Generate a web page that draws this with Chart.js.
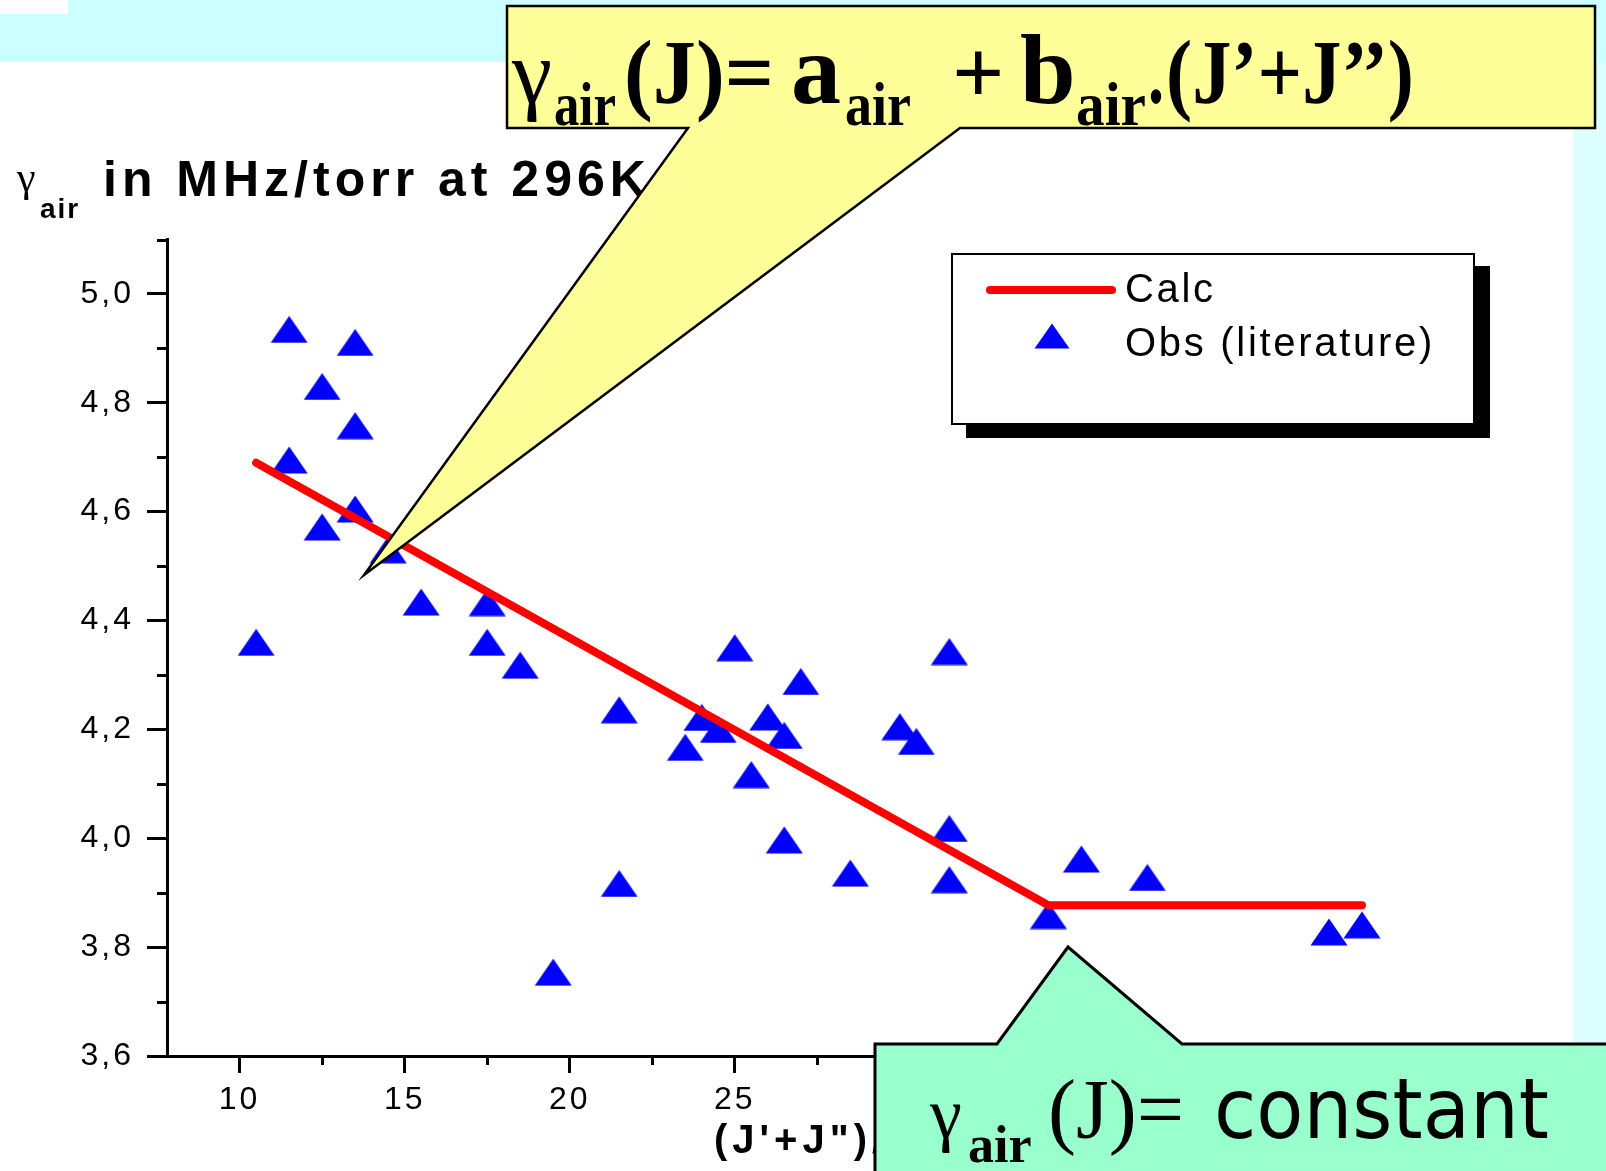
<!DOCTYPE html>
<html>
<head>
<meta charset="utf-8">
<script src="https://cdn.jsdelivr.net/npm/chart.js@4.4.1/dist/chart.umd.min.js"></script>
<style>
html, body { margin: 0; padding: 0; background: #fff; overflow: hidden; }
#wrap { position: absolute; left: 0; top: 0; width: 1606px; height: 1171px; }
</style>
</head>
<body>
<div id="wrap"><canvas id="chart" width="1606" height="1171"></canvas></div>
<script>
const obsJ = [10.5, 11.5, 11.5, 12.5, 12.5, 13.5, 13.5, 13.5, 14.5, 15.5, 17.5, 17.5, 18.5, 19.5,
              21.5, 21.5, 23.5, 24, 24.5, 25, 25.5, 26, 26.5, 26.5, 27, 28.5, 30, 30.5,
              31.5, 31.5, 31.5, 34.5, 35.5, 37.5, 43, 44];
const obsGamma = [4.36, 4.935, 4.695, 4.83, 4.572, 4.911, 4.758, 4.605, 4.53, 4.434, 4.433, 4.36, 4.318, 3.754,
                  4.236, 3.917, 4.167, 4.222, 4.2, 4.35, 4.117, 4.223, 4.189, 3.997, 4.288, 3.936, 4.205, 4.178,
                  4.343, 4.018, 3.924, 3.858, 3.962, 3.928, 3.828, 3.841];

// Calculated (linear, then constant)
const calcJ = [10.5, 34.5, 44];
const calcGamma = [4.69, 3.877, 3.877];

// Axis ticks
const yTicks = [3.6, 3.7, 3.8, 3.9, 4.0, 4.1, 4.2, 4.3, 4.4, 4.5, 4.6, 4.7, 4.8, 4.9, 5.0, 5.1];
const yLabelled = [3.6, 3.8, 4.0, 4.2, 4.4, 4.6, 4.8, 5.0];
const xTicks = [10, 12.5, 15, 17.5, 20, 22.5, 25, 27.5, 30, 32.5, 35, 37.5, 40, 42.5, 45];
const xLabelled = [10, 15, 20, 25, 30, 35, 40, 45];
const xTitle = "(J'+J\")/2";

const SANS = '"Liberation Sans", Arial, sans-serif';
const SERIF = '"Liberation Serif", "Times New Roman", serif';

function isLab(list, v) {
    return list.some(l => Math.abs(l - v) < 1e-6);
}

// blue triangle marker, a bit wider than equilateral like the original
function makeTriangle(w, h) {
    const c = document.createElement("canvas");
    c.width = w; c.height = h;
    const g = c.getContext("2d");
    g.fillStyle = "#0000ff";
    g.beginPath();
    g.moveTo(0.5, h - 0.5);
    g.lineTo(w / 2, 0.5);
    g.lineTo(w - 0.5, h - 0.5);
    g.closePath();
    g.fill();
    return c;
}
const triangle = makeTriangle(38, 28);
const legendTriangle = makeTriangle(36, 26);

// Backgrounds, minor ticks, titles, legend and callouts
const decor = {
    id: "decor",
    beforeDraw(chart) {
        const ctx = chart.ctx;
        ctx.save();
        ctx.fillStyle = "#ffffff";
        ctx.fillRect(0, 0, 1606, 1171);
        ctx.fillStyle = "#ccffff";
        ctx.fillRect(0, 0, 1606, 62);
        ctx.fillStyle = "#ddffff";
        ctx.fillRect(1573, 62, 33, 1109);
        ctx.fillStyle = "#ffffff";
        ctx.fillRect(0, 0, 68, 14);
        ctx.restore();
        ctx.letterSpacing = "3px";
    },
    afterDraw(chart) {
        const ctx = chart.ctx;
        const area = chart.chartArea;
        const xs = chart.scales.x, ys = chart.scales.y;
        ctx.save();
        ctx.letterSpacing = "0px";

        // minor ticks
        ctx.strokeStyle = "#000";
        ctx.lineWidth = 3;
        ctx.beginPath();
        ys.ticks.forEach(t => {
            if (t.major) return;
            const py = Math.round(ys.getPixelForValue(t.value)) + 0.5;
            ctx.moveTo(area.left - 10, py);
            ctx.lineTo(area.left, py);
        });
        xs.ticks.forEach(t => {
            if (t.major) return;
            const px = Math.round(xs.getPixelForValue(t.value)) + 0.5;
            ctx.moveTo(px, area.bottom);
            ctx.lineTo(px, area.bottom + 9);
        });
        ctx.stroke();

        // axis titles
        ctx.fillStyle = "#000";
        ctx.textBaseline = "alphabetic";
        ctx.textAlign = "left";
        ctx.font = "bold 40px " + SANS;
        ctx.letterSpacing = "5px";
        ctx.fillText(xTitle, 714, 1153);

        ctx.letterSpacing = "0px";
        ctx.font = "42px " + SERIF;
        ctx.fillText("γ", 17, 191);
        ctx.font = "bold 28px " + SANS;
        ctx.letterSpacing = "2px";
        ctx.fillText("air", 40, 218);
        ctx.font = "bold 50px " + SANS;
        ctx.letterSpacing = "5px";
        ctx.fillText("in MHz/torr at 296K", 103, 196);
        ctx.letterSpacing = "0px";

        // legend with drop shadow
        ctx.fillStyle = "#000";
        ctx.fillRect(966, 266, 524, 172);
        ctx.fillStyle = "#fff";
        ctx.fillRect(952, 254, 522, 170);
        ctx.lineWidth = 2;
        ctx.strokeStyle = "#000";
        ctx.strokeRect(952, 254, 522, 170);

        const dsCalc = chart.data.datasets[0], dsObs = chart.data.datasets[1];
        ctx.strokeStyle = dsCalc.borderColor;
        ctx.lineWidth = 8;
        ctx.lineCap = "round";
        ctx.beginPath();
        ctx.moveTo(990, 290);
        ctx.lineTo(1112, 290);
        ctx.stroke();
        ctx.drawImage(legendTriangle, 1052 - 18, 336 - 13);
        ctx.fillStyle = "#000";
        ctx.font = "40px " + SANS;
        ctx.letterSpacing = "2.7px";
        ctx.textBaseline = "middle";
        ctx.fillText(dsCalc.label, 1125, 291);
        ctx.fillText(dsObs.label, 1125, 345);
        ctx.letterSpacing = "0px";
        ctx.textBaseline = "alphabetic";

        // yellow callout
        ctx.lineCap = "butt";
        ctx.lineJoin = "miter";
        ctx.beginPath();
        ctx.moveTo(507, 6);
        ctx.lineTo(1595, 6);
        ctx.lineTo(1595, 128);
        ctx.lineTo(960, 128);
        ctx.lineTo(364, 575);
        ctx.lineTo(688, 128);
        ctx.lineTo(507, 128);
        ctx.closePath();
        ctx.fillStyle = "#ffff99";
        ctx.fill();
        ctx.lineWidth = 2.5;
        ctx.strokeStyle = "#000";
        ctx.stroke();

        const big = "bold 92px " + SERIF, wide = "bold 100px " + SERIF, sub = "bold 62px " + SERIF;
        const formula = [
            ["γ", "92px " + SERIF, 512, 103, 40],
            ["air", sub, 554, 125, 62],
            ["(J)=", big, 624, 103, 150],
            ["a", wide, 791, 103, 55],
            ["air", sub, 845, 125, 66],
            ["+", big, 952, 103, 56],
            ["b", wide, 1020, 103, 56],
            ["air", sub, 1076, 125, 70],
            [".", big, 1148, 103, 16],
            ["(J’+J’’)", big, 1166, 103, 248]
        ];
        ctx.fillStyle = "#000";
        formula.forEach(([t, f, x, y, w]) => {
            ctx.font = f;
            ctx.fillText(t, x, y, w);
        });

        // green callout
        ctx.beginPath();
        ctx.moveTo(875, 1180);
        ctx.lineTo(875, 1044);
        ctx.lineTo(997, 1044);
        ctx.lineTo(1068, 947);
        ctx.lineTo(1182, 1044);
        ctx.lineTo(1612, 1044);
        ctx.lineTo(1612, 1180);
        ctx.closePath();
        ctx.fillStyle = "#99ffcc";
        ctx.fill();
        ctx.lineWidth = 3;
        ctx.strokeStyle = "#000";
        ctx.stroke();

        ctx.fillStyle = "#000";
        ctx.font = "72px " + SERIF;
        ctx.fillText("γ", 930, 1138, 36);
        ctx.font = "bold 52px " + SERIF;
        ctx.fillText("air", 968, 1162, 68);
        ctx.font = "84px " + SERIF;
        ctx.fillText("(J)=", 1048, 1138, 138);
        ctx.font = '84px "Comic Sans MS", "DejaVu Sans", sans-serif';
        ctx.fillText("constant", 1214, 1138, 335);

        ctx.restore();
    }
};

new Chart(document.getElementById("chart").getContext("2d"), {
    type: "scatter",
    data: {
        datasets: [
            {
                label: "Calc",
                type: "line",
                data: calcJ.map((x, i) => ({ x: x, y: calcGamma[i] })),
                borderColor: "#ff0000",
                borderWidth: 8,
                borderCapStyle: "round",
                borderJoinStyle: "round",
                pointRadius: 0,
                fill: false,
                tension: 0
            },
            {
                label: "Obs (literature)",
                data: obsJ.map((x, i) => ({ x: x, y: obsGamma[i] })),
                pointStyle: triangle,
                pointRadius: 19,
                showLine: false
            }
        ]
    },
    options: {
        responsive: false,
        animation: false,
        events: [],
        layout: { autoPadding: false, padding: { left: 0, top: 239.5, right: 178, bottom: 0 } },
        plugins: { legend: { display: false }, tooltip: { enabled: false } },
        scales: {
            x: {
                type: "linear",
                min: 7.8,
                max: 46,
                afterBuildTicks: s => { s.ticks = xTicks.map(v => ({ value: v, major: isLab(xLabelled, v) })); },
                afterFit: s => { s.height = 115; },
                ticks: {
                    autoSkip: false,
                    maxRotation: 0,
                    padding: 8,
                    color: "#000",
                    font: { family: SANS, size: 32 },
                    callback: v => isLab(xLabelled, v) ? String(v) : ""
                },
                grid: {
                    drawOnChartArea: false,
                    tickLength: 17,
                    tickWidth: 3,
                    tickColor: c => (c.tick && c.tick.major) ? "#000" : "rgba(0,0,0,0)"
                },
                border: { display: true, color: "#000", width: 3 },
                title: { display: false }
            },
            y: {
                type: "linear",
                min: 3.6,
                max: 5.1,
                afterBuildTicks: s => { s.ticks = yTicks.map(v => ({ value: v, major: isLab(yLabelled, v) })); },
                afterFit: s => { s.width = 167; },
                ticks: {
                    autoSkip: false,
                    padding: 13,
                    color: "#000",
                    font: { family: SANS, size: 32 },
                    callback: v => isLab(yLabelled, v) ? v.toFixed(1).replace(".", ",") : ""
                },
                grid: {
                    drawOnChartArea: false,
                    tickLength: 20,
                    tickWidth: 3,
                    tickColor: c => (c.tick && c.tick.major) ? "#000" : "rgba(0,0,0,0)"
                },
                border: { display: true, color: "#000", width: 3 }
            }
        }
    },
    plugins: [decor]
});
</script>
</body>
</html>
